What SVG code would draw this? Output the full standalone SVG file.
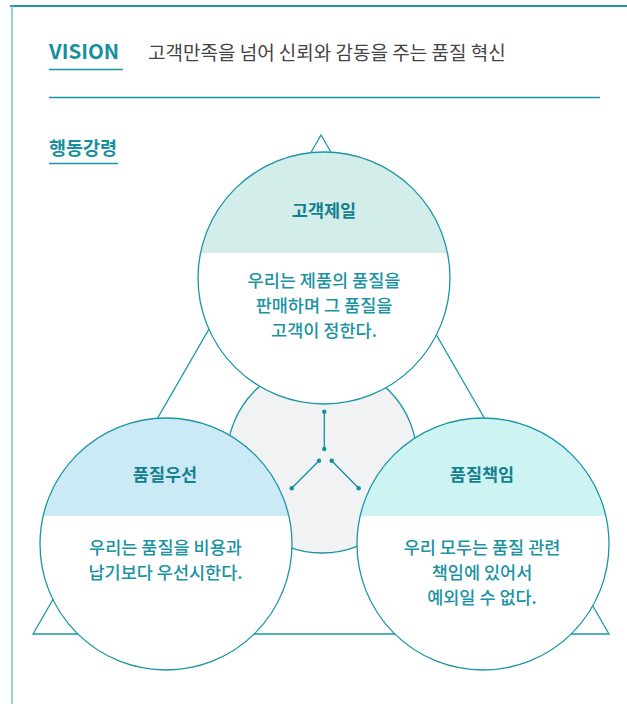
<svg xmlns="http://www.w3.org/2000/svg" width="627" height="704" viewBox="0 0 627 704">
<style>
.kr{font-family:"Noto Sans CJK KR","Noto Sans",sans-serif}
.head{font-weight:700;fill:#16909f}
.title{font-weight:700;font-size:17.5px;fill:#15808e;text-anchor:middle}
.desc{font-weight:500;font-size:17.5px;fill:#1a93a3;text-anchor:middle}
.ring{fill:none;stroke:#1a95a5;stroke-width:1.3}
.tri{fill:none;stroke:#1a9aaa;stroke-width:1.3}
.con{stroke:#15909f;stroke-width:1.3;fill:none}
.dot{fill:#15909f}
</style>
<defs>
<clipPath id="cTop"><circle cx="324" cy="278" r="126"/></clipPath>
<clipPath id="cLeft"><circle cx="166" cy="544" r="126"/></clipPath>
<clipPath id="cRight"><circle cx="483" cy="544" r="126"/></clipPath>
</defs>
<rect width="627" height="704" fill="#ffffff"/>
<g id="frame">
<line x1="10" y1="6" x2="627" y2="6" stroke="#1a9aaa" stroke-width="2"/>
<line x1="12" y1="6" x2="12" y2="704" stroke="#6cc3cd" stroke-width="1.5"/>
</g>
<g id="vision">
<text class="kr head" x="49" y="59" font-size="20.5">VISION</text>
<line x1="49" y1="69.5" x2="123" y2="69.5" stroke="#1a95a5" stroke-width="1.3"/>
<text class="kr" x="148" y="59.5" font-size="19" fill="#444444">고객만족을 넘어 신뢰와 감동을 주는 품질 혁신</text>
<line x1="49" y1="97.5" x2="600" y2="97.5" stroke="#1a95a5" stroke-width="1.3"/>
</g>
<g id="conduct-heading">
<text class="kr head" x="49" y="154.5" font-size="18.5">행동강령</text>
<line x1="49" y1="163.5" x2="118" y2="163.5" stroke="#1a95a5" stroke-width="1.3"/>
</g>
<g id="triangle">
<polygon class="tri" points="321,135 33,634 609,634"/>
</g>
<g id="center">
<circle cx="322" cy="458" r="95" fill="#f1f2f4" stroke="#1a95a5" stroke-width="1.3"/>
</g>
<g id="connectors">
<line class="con" x1="324.3" y1="411.7" x2="324.3" y2="449"/>
<line class="con" x1="319" y1="460.7" x2="291.7" y2="488.3"/>
<line class="con" x1="331.7" y1="460.7" x2="358.7" y2="488.3"/>
<circle class="dot" cx="324.3" cy="411.7" r="2.2"/>
<circle class="dot" cx="324.3" cy="449" r="2.2"/>
<circle class="dot" cx="319" cy="460.7" r="2.2"/>
<circle class="dot" cx="291.7" cy="488.3" r="2.2"/>
<circle class="dot" cx="331.7" cy="460.7" r="2.2"/>
<circle class="dot" cx="358.7" cy="488.3" r="2.2"/>
</g>
<g id="node-top">
<circle cx="324" cy="278" r="126" fill="#ffffff"/>
<rect x="190" y="140" width="270" height="113" fill="#d3edea" clip-path="url(#cTop)"/>
<circle class="ring" cx="324" cy="278" r="126"/>
<text class="kr title" x="324" y="216.5">고객제일</text>
<text class="kr desc" x="324" y="287">우리는 제품의 품질을</text>
<text class="kr desc" x="324" y="312">판매하며 그 품질을</text>
<text class="kr desc" x="324" y="337">고객이 정한다.</text>
</g>
<g id="node-left">
<circle cx="166" cy="544" r="126" fill="#ffffff"/>
<rect x="30" y="410" width="272" height="106" fill="#cbeaf5" clip-path="url(#cLeft)"/>
<circle class="ring" cx="166" cy="544" r="126"/>
<text class="kr title" x="165" y="480.5">품질우선</text>
<text class="kr desc" x="165.5" y="553.5">우리는 품질을 비용과</text>
<text class="kr desc" x="165.5" y="578.5">납기보다 우선시한다.</text>
</g>
<g id="node-right">
<circle cx="483" cy="544" r="126" fill="#ffffff"/>
<rect x="347" y="410" width="272" height="106" fill="#cdf4f3" clip-path="url(#cRight)"/>
<circle class="ring" cx="483" cy="544" r="126"/>
<text class="kr title" x="482" y="480.5">품질책임</text>
<text class="kr desc" x="482" y="553.5">우리 모두는 품질 관련</text>
<text class="kr desc" x="482" y="578.5">책임에 있어서</text>
<text class="kr desc" x="482" y="603.5">예외일 수 없다.</text>
</g>
</svg>
